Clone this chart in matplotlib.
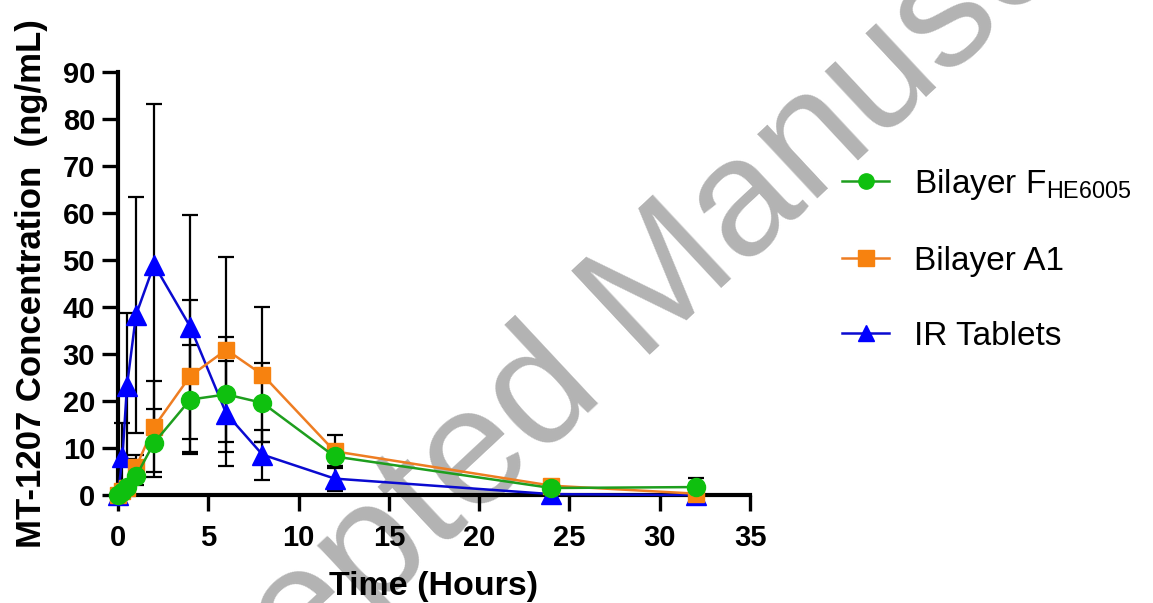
import matplotlib
matplotlib.use("Agg")
import matplotlib.pyplot as plt

plt.rcParams['font.family'] = ['Liberation Sans', 'DejaVu Sans']

# sampling times (hours)
time_h = [0, 0.25, 0.5, 1, 2, 4, 6, 8, 12, 24, 32]

# mean +/- SD, ng/mL
fhe_mean = [0, 0.7, 1.7, 4.0, 11.1, 20.3, 21.4, 19.6, 8.2, 1.5, 1.7]
fhe_sd = [0, 0.5, 0.8, 1.8, 7.3, 11.5, 12.3, 8.4, 2.1, 0.6, 2.0]
a1_mean = [0, 0.8, 1.5, 6.0, 14.5, 25.3, 30.9, 25.6, 9.3, 2.0, 0.3]
a1_sd = [0, 0.6, 1.0, 2.5, 9.7, 16.2, 19.7, 14.3, 3.5, 0.5, 0.4]
ir_mean = [0, 8.1, 23.2, 38.3, 49.0, 35.8, 17.3, 8.6, 3.5, 0.2, 0.0]
ir_sd = [0, 7.3, 15.6, 25.0, 34.2, 23.8, 11.1, 5.3, 2.6, 0.2, 0.1]

labels = [r"Bilayer F$_\mathregular{HE6005}$", "Bilayer A1", "IR Tablets"]
x_ticks = [0, 5, 10, 15, 20, 25, 30, 35]
y_ticks = [0, 10, 20, 30, 40, 50, 60, 70, 80, 90]

fig = plt.figure(figsize=(11.53, 6.03), dpi=100)
ax = fig.add_axes([0.1023, 0.179, 0.5482, 0.702])
ax.patch.set_alpha(0)

# watermark behind everything
fig.text(0.553, 0.49, "Accepted Manuscript", fontsize=120, color="#b3b3b3",
         rotation=43, ha="center", va="center", rotation_mode="anchor",
         zorder=-1)

series = [
    (ir_mean, ir_sd, "#0a0ad0", "#0000ff", "^", 14, labels[2]),
    (a1_mean, a1_sd, "#ee7d22", "#f7820f", "s", 12, labels[1]),
    (fhe_mean, fhe_sd, "#1e9e1e", "#0fc00f", "o", 13, labels[0]),
]

handles = {}
for k, (m, sd, lc, mc, mk, ms, lab) in enumerate(series):
    ax.errorbar(time_h, m, yerr=sd, fmt="none", ecolor="black", elinewidth=1.6,
                capsize=6, capthick=1.6, zorder=2, clip_on=False)
    ln, = ax.plot(time_h, m, color=lc, lw=1.8, marker=mk, ms=ms, mfc=mc,
                  mec=mc, zorder=3 + k, clip_on=False, label=lab)
    handles[lab] = ln

ax.set_xlim(0, 35)
ax.set_ylim(0, 90)
ax.set_xticks(x_ticks)
ax.set_yticks(y_ticks)
for s in ["top", "right"]:
    ax.spines[s].set_visible(False)
for s in ["left", "bottom"]:
    ax.spines[s].set_linewidth(3)
ax.tick_params(axis="both", length=11.5, width=2.4, labelsize=21)
ax.tick_params(axis="x", pad=9)
ax.tick_params(axis="y", pad=5)
for t in ax.get_xticklabels() + ax.get_yticklabels():
    t.set_fontweight("bold")

ax.set_xlabel("Time (Hours)", fontsize=24.5, fontweight="bold", labelpad=14)
ax.set_ylabel("MT-1207 Concentration  (ng/mL)", fontsize=25,
              fontweight="bold")
ax.yaxis.set_label_coords(-0.11, 0.5)

leg = ax.legend([handles[l] for l in labels], labels, loc="upper left",
                bbox_to_anchor=(0.719, 0.745), bbox_transform=fig.transFigure,
                frameon=False, fontsize=24, handlelength=1.4,
                handletextpad=0.75, labelspacing=1.32, borderaxespad=0)
for h in leg.legend_handles:
    h.set_markersize(11)

fig.savefig("out.png", dpi=100)
